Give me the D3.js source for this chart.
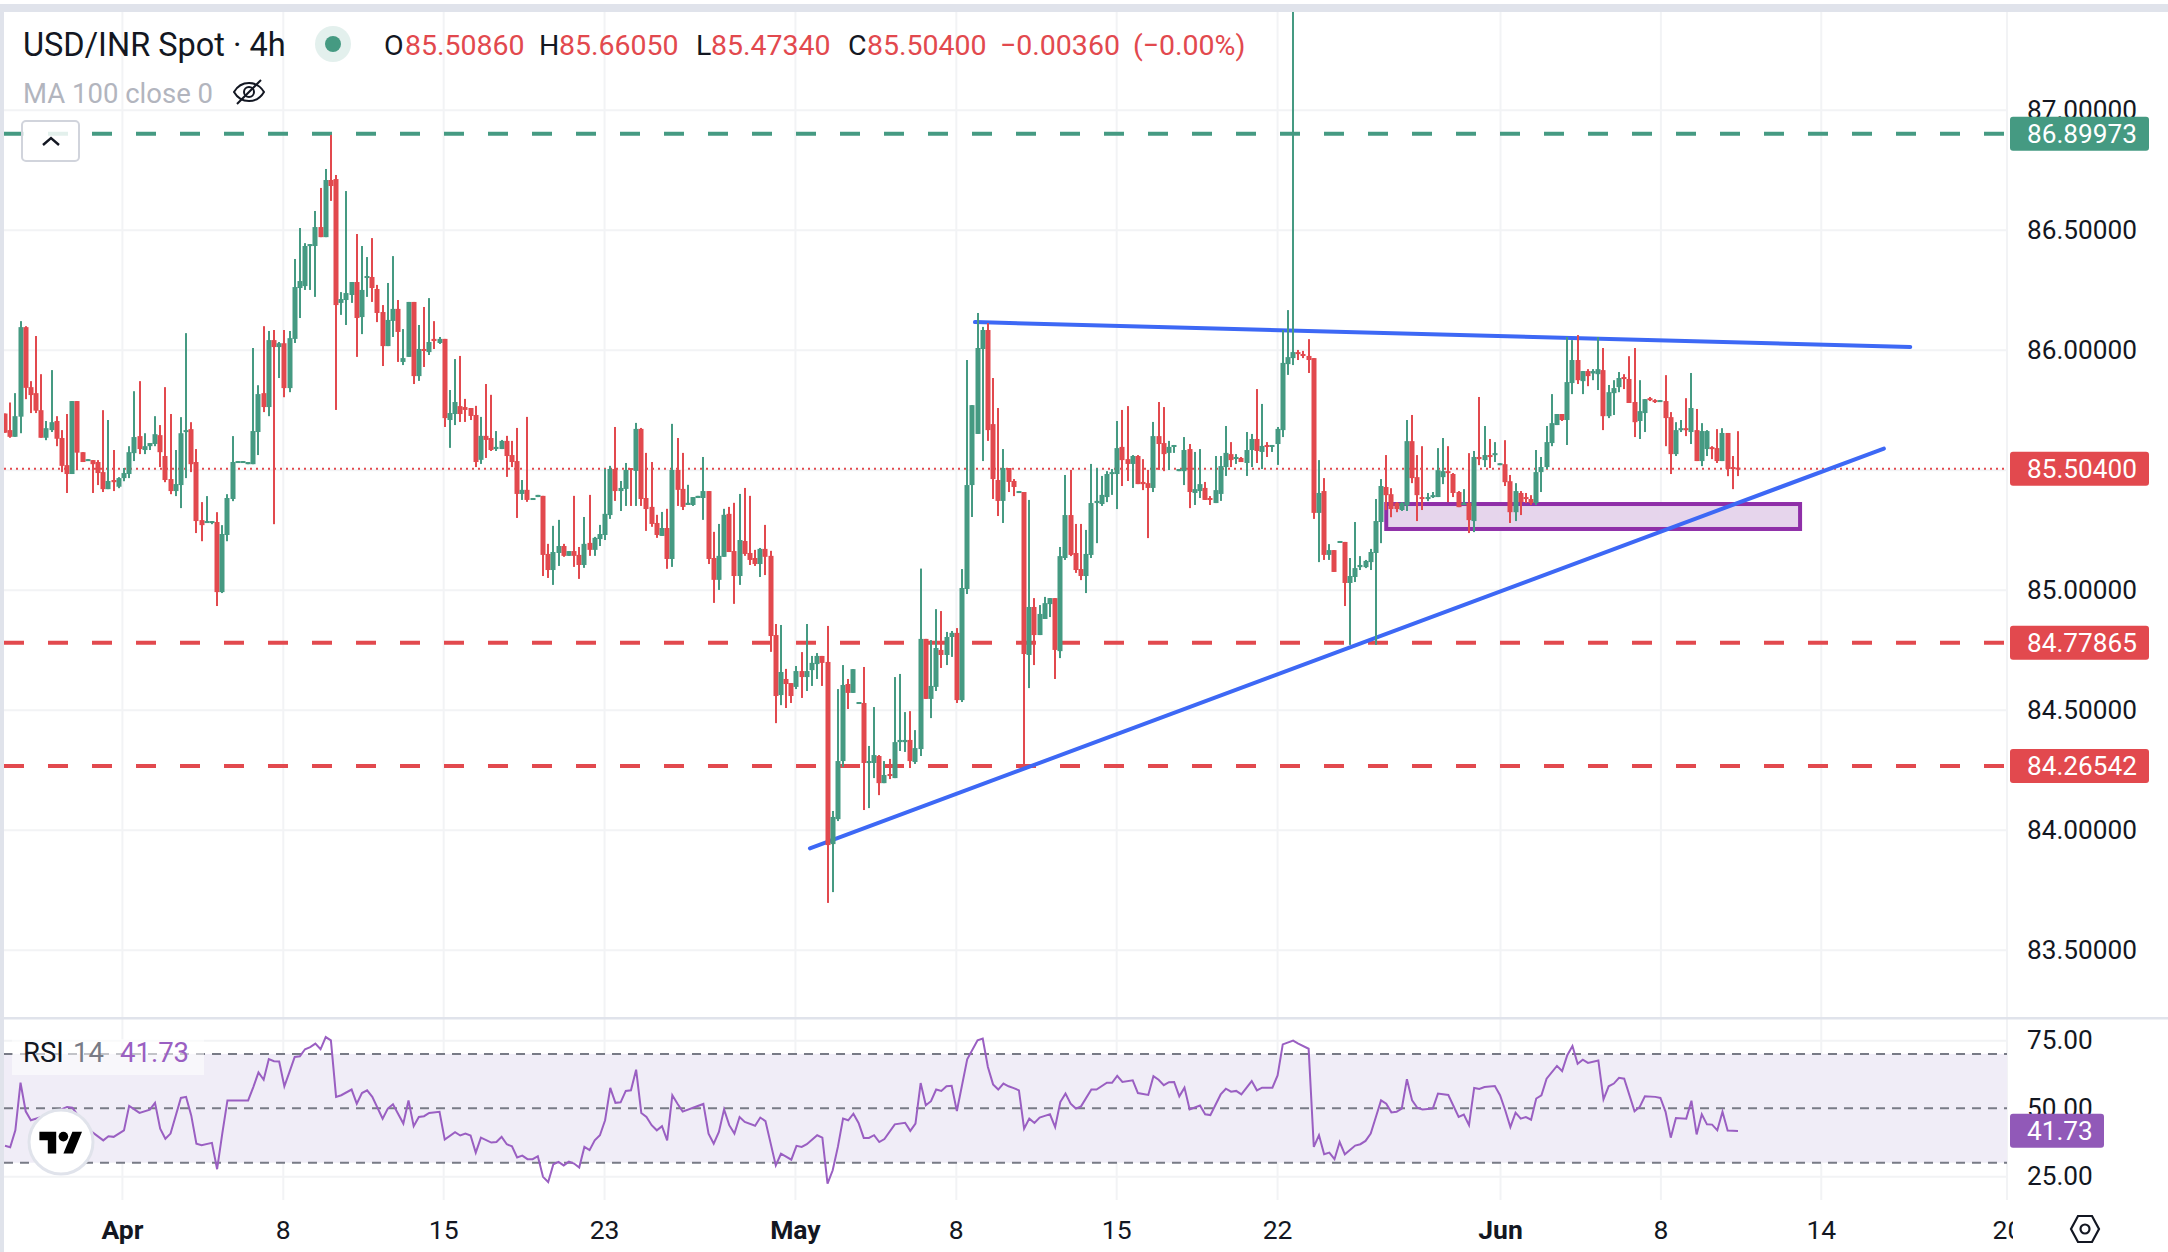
<!DOCTYPE html>
<html><head><meta charset="utf-8">
<script src="https://cdn.jsdelivr.net/npm/d3@7/dist/d3.min.js"></script>
<style>html,body{margin:0;padding:0;background:#fff}svg{display:block}text{font-family:Roboto,Inter,sans-serif}</style>
</head><body><div id="chart"></div>
<script>
// ---- candle data ----
const candleDirs = ["RRGGRRRRGG","RRRGRRGRRR","GRGGGGRGGG","RRRGGGRRRG","GRGGGGGGGG","RGRGRGGGGG","GRGRRGGGRG","GRRRGGRGGR","GRGRGRGGRR","RRGRRGGRRR",
"GRGGRRGGRG","RRGRGGGGRG","GRGRRRRGRG","RRGGGGRRGG","RRGRRRGRRR","GRRGRGGGRR","GGGRGGRGGR","GRGGGRGGRG","GRGGRGGGGG","RRRGRRGRGR",
"GGGRGGRRRG","GGGGGGRRGR","RRGRRGGGGR","GGRRGGGRGR","GGRGRGGGGG","RRRRGRGRGR","GGGGGGGRRR","GGRRRGGGGR","RRGRGRGRGG","RRGRRRGGGG",
"GRGGRGRGGR","GGGRRRGGRR","GRRGGRGRGG","RRGRRR"];
const highs = [85.734,85.780,85.819,86.119,86.098,85.869,86.057,85.898,85.703,85.915,
85.723,85.665,85.732,85.786,85.786,85.573,85.544,85.540,85.540,85.748,
85.707,85.582,85.469,85.507,85.598,85.827,85.869,85.652,85.611,85.723,
85.686,85.844,85.732,85.582,85.719,86.069,85.698,85.586,85.365,85.390,
85.286,85.323,85.269,85.398,85.640,85.536,85.536,85.532,86.007,85.852,
86.098,86.078,86.082,86.032,86.082,86.078,86.378,86.507,86.444,86.440,
86.578,86.674,86.753,86.895,86.728,86.240,86.661,86.282,86.482,86.432,
86.386,86.465,86.270,86.186,86.278,86.390,86.207,86.086,86.199,86.199,
86.103,86.178,86.215,86.119,86.053,86.045,85.832,85.961,85.974,85.795,
85.757,85.766,85.720,85.857,85.812,85.661,85.624,85.641,85.620,85.674,
85.457,85.720,85.382,85.395,85.391,85.191,85.266,85.291,85.191,85.161,
85.391,85.178,85.303,85.395,85.220,85.270,85.503,85.516,85.678,85.453,
85.528,85.507,85.695,85.674,85.570,85.532,85.312,85.324,85.337,85.691,
85.632,85.570,85.437,85.386,85.391,85.553,85.411,85.241,85.274,85.337,
85.345,85.362,85.399,85.424,85.391,85.166,85.174,85.270,85.162,84.857,
84.853,84.670,84.611,84.682,84.740,84.857,84.724,84.736,84.724,84.849,
84.078,84.586,84.686,84.628,84.669,84.532,84.678,84.349,84.511,84.311,
84.286,84.295,84.636,84.649,84.490,84.494,84.415,85.088,84.795,84.790,
84.919,84.911,84.824,84.828,84.840,85.086,85.957,85.769,86.153,86.095,
86.111,85.882,85.757,85.586,85.507,85.461,85.411,85.407,85.374,84.965,
84.936,84.970,84.965,84.965,85.178,85.478,85.499,85.274,85.274,85.249,
85.524,85.507,85.474,85.494,85.503,85.703,85.749,85.765,85.561,85.561,
85.544,85.499,85.699,85.782,85.761,85.620,85.603,85.503,85.636,85.607,
85.574,85.586,85.449,85.390,85.557,85.557,85.682,85.615,85.565,85.553,
85.657,85.649,85.836,85.774,85.615,85.603,85.678,86.082,86.165,87.45,
85.999,85.995,86.044,85.965,85.540,85.465,85.190,85.165,85.203,85.199,
85.132,85.282,85.140,85.124,85.170,85.378,85.461,85.561,85.423,85.365,
85.365,85.707,85.728,85.561,85.598,85.403,85.407,85.590,85.632,85.598,
85.486,85.411,85.419,85.569,85.578,85.803,85.682,85.628,85.615,85.527,
85.623,85.478,85.444,85.411,85.403,85.394,85.582,85.553,85.682,85.815,
85.732,85.732,86.053,86.040,86.061,85.911,85.919,85.919,86.053,86.007,
85.853,85.873,85.907,85.898,85.973,86.007,85.873,85.794,85.803,85.794,
85.790,85.894,85.740,85.698,85.707,85.798,85.903,85.753,85.694,85.665,
85.598,85.669,85.673,85.653,85.557,85.6605];
const bodyTops = [85.734,85.665,85.723,86.094,86.094,85.844,85.819,85.748,85.673,85.698,
85.703,85.632,85.519,85.786,85.786,85.573,85.544,85.540,85.532,85.490,
85.453,85.457,85.465,85.486,85.573,85.636,85.640,85.598,85.611,85.648,
85.644,85.557,85.461,85.440,85.652,85.665,85.669,85.532,85.290,85.286,
85.286,85.282,85.232,85.382,85.532,85.536,85.536,85.532,85.661,85.815,
85.819,86.040,86.040,86.027,86.027,86.048,86.261,86.286,86.432,86.440,
86.511,86.511,86.707,86.707,86.711,86.211,86.236,86.282,86.282,86.249,
86.307,86.303,86.253,86.157,86.124,86.170,86.170,85.965,86.199,86.199,
86.003,86.003,86.032,86.045,86.045,86.045,85.736,85.782,85.765,85.761,
85.757,85.728,85.641,85.641,85.632,85.595,85.620,85.620,85.561,85.536,
85.416,85.416,85.382,85.395,85.391,85.149,85.157,85.182,85.182,85.161,
85.161,85.145,85.191,85.195,85.216,85.232,85.316,85.503,85.503,85.424,
85.499,85.507,85.670,85.670,85.382,85.345,85.278,85.257,85.257,85.499,
85.499,85.420,85.362,85.386,85.391,85.411,85.411,85.132,85.141,85.312,
85.316,85.161,85.207,85.203,85.153,85.132,85.170,85.170,85.141,84.811,
84.657,84.628,84.611,84.661,84.661,84.661,84.695,84.724,84.724,84.699,
84.053,84.286,84.603,84.607,84.669,84.532,84.528,84.286,84.311,84.307,
84.228,84.232,84.365,84.374,84.374,84.374,84.340,84.795,84.795,84.599,
84.757,84.749,84.803,84.820,84.820,85.007,85.436,85.769,86.007,86.082,
86.082,85.690,85.457,85.507,85.507,85.453,85.411,85.407,84.928,84.928,
84.899,84.944,84.965,84.965,85.140,85.311,85.311,85.153,85.086,85.149,
85.361,85.370,85.395,85.482,85.490,85.590,85.595,85.544,85.557,85.557,
85.449,85.444,85.640,85.640,85.611,85.595,85.603,85.503,85.582,85.586,
85.419,85.440,85.424,85.382,85.415,85.515,85.570,85.565,85.553,85.549,
85.582,85.628,85.628,85.599,85.603,85.603,85.670,85.945,85.969,85.990,
85.990,85.982,85.974,85.965,85.403,85.411,85.165,85.165,85.203,85.199,
85.057,85.090,85.103,85.120,85.157,85.286,85.432,85.428,85.398,85.361,
85.361,85.619,85.619,85.469,85.386,85.386,85.394,85.498,85.494,85.494,
85.482,85.407,85.361,85.361,85.553,85.553,85.561,85.561,85.569,85.527,
85.523,85.452,85.411,85.403,85.386,85.378,85.490,85.511,85.615,85.694,
85.732,85.732,85.865,85.957,85.957,85.911,85.911,85.911,85.919,85.915,
85.823,85.840,85.882,85.886,85.878,85.782,85.744,85.794,85.798,85.790,
85.790,85.786,85.719,85.665,85.673,85.673,85.757,85.665,85.661,85.661,
85.594,85.590,85.653,85.653,85.511,85.5086];
const bodyBots = [85.654,85.637,85.637,85.721,85.841,85.811,85.746,85.633,85.633,85.665,
85.629,85.516,85.482,85.482,85.571,85.532,85.537,85.523,85.486,85.419,
85.419,85.448,85.429,85.465,85.482,85.569,85.586,85.582,85.598,85.607,
85.573,85.457,85.411,85.411,85.436,85.657,85.523,85.286,85.269,85.278,
85.278,84.990,84.990,85.228,85.378,85.528,85.528,85.523,85.523,85.657,
85.761,85.761,86.011,86.011,85.840,85.840,86.045,86.257,86.265,86.432,
86.432,86.469,86.469,86.682,86.186,86.195,86.207,86.228,86.132,86.136,
86.299,86.257,86.153,86.015,86.015,86.120,86.074,85.949,85.970,85.890,
85.890,85.995,85.990,86.036,86.028,85.715,85.707,85.732,85.732,85.749,
85.724,85.532,85.541,85.624,85.582,85.586,85.586,85.557,85.532,85.399,
85.399,85.374,85.374,85.386,85.145,85.082,85.082,85.153,85.141,85.141,
85.141,85.103,85.103,85.166,85.166,85.211,85.228,85.311,85.411,85.411,
85.420,85.499,85.495,85.378,85.336,85.274,85.228,85.224,85.128,85.128,
85.416,85.345,85.353,85.353,85.382,85.382,85.128,85.041,85.041,85.137,
85.157,85.057,85.057,85.149,85.124,85.107,85.107,85.137,84.807,84.557,
84.561,84.607,84.557,84.595,84.636,84.636,84.665,84.690,84.695,83.936,
83.940,84.044,84.286,84.570,84.570,84.524,84.278,84.278,84.278,84.194,
84.194,84.224,84.215,84.365,84.365,84.286,84.282,84.336,84.545,84.545,
84.595,84.728,84.728,84.803,84.540,84.540,85.003,85.436,85.649,86.003,
85.665,85.461,85.370,85.370,85.449,85.428,85.403,84.732,84.728,84.811,
84.811,84.878,84.940,84.749,84.744,85.132,85.145,85.082,85.057,85.057,
85.145,85.361,85.357,85.386,85.482,85.482,85.540,85.524,85.524,85.440,
85.440,85.424,85.424,85.607,85.565,85.570,85.595,85.494,85.494,85.407,
85.403,85.411,85.374,85.374,85.361,85.399,85.511,85.540,85.545,85.532,
85.528,85.582,85.578,85.574,85.595,85.595,85.607,85.665,85.940,85.965,
85.982,85.974,85.957,85.320,85.320,85.145,85.145,85.074,85.195,85.028,
85.028,85.053,85.094,85.094,85.115,85.153,85.282,85.394,85.336,85.336,
85.332,85.352,85.465,85.394,85.378,85.378,85.386,85.386,85.469,85.486,
85.403,85.344,85.353,85.290,85.286,85.544,85.540,85.553,85.561,85.519,
85.448,85.323,85.323,85.365,85.378,85.361,85.361,85.490,85.511,85.611,
85.686,85.707,85.707,85.861,85.873,85.869,85.890,85.901,85.898,85.723,
85.723,85.819,85.844,85.878,85.778,85.698,85.703,85.736,85.790,85.786,
85.782,85.715,85.565,85.565,85.665,85.665,85.657,85.536,85.536,85.586,
85.586,85.536,85.536,85.503,85.503,85.504];
const lows = [85.654,85.633,85.637,85.652,85.794,85.736,85.736,85.633,85.623,85.657,
85.598,85.490,85.403,85.482,85.498,85.532,85.537,85.403,85.436,85.407,
85.419,85.411,85.423,85.452,85.465,85.536,85.565,85.565,85.582,85.598,
85.511,85.448,85.398,85.390,85.340,85.465,85.490,85.236,85.202,85.278,
85.273,84.932,84.986,85.202,85.369,85.528,85.528,85.523,85.523,85.561,
85.740,85.723,85.273,85.882,85.802,85.823,86.028,86.132,86.249,86.249,
86.220,86.469,86.469,86.620,85.749,86.145,86.103,86.195,85.970,86.065,
86.220,86.199,86.115,85.932,86.015,86.053,85.949,85.936,85.970,85.857,
85.870,85.928,85.978,86.003,86.024,85.678,85.591,85.686,85.699,85.699,
85.707,85.511,85.524,85.549,85.578,85.578,85.586,85.470,85.511,85.299,
85.374,85.366,85.374,85.386,85.057,85.049,85.020,85.099,85.137,85.141,
85.095,85.045,85.091,85.141,85.141,85.182,85.207,85.295,85.370,85.328,
85.349,85.349,85.349,85.349,85.245,85.262,85.216,85.224,85.087,85.095,
85.349,85.332,85.353,85.349,85.382,85.291,85.107,84.945,84.999,85.137,
85.157,84.941,85.020,85.141,85.103,85.099,85.053,85.061,84.741,84.444,
84.519,84.507,84.528,84.586,84.549,84.578,84.599,84.628,84.599,83.695,
83.740,84.036,84.261,84.503,84.570,84.524,84.082,84.090,84.215,84.144,
84.194,84.211,84.215,84.328,84.324,84.257,84.274,84.307,84.545,84.465,
84.578,84.674,84.686,84.720,84.528,84.532,84.982,85.303,85.649,85.536,
85.620,85.378,85.307,85.278,85.407,85.390,85.403,84.267,84.590,84.686,
84.811,84.878,84.886,84.628,84.715,85.124,85.140,85.070,85.040,84.986,
85.132,85.194,85.349,85.365,85.395,85.336,85.432,85.453,85.424,85.440,
85.415,85.215,85.407,85.499,85.494,85.499,85.570,85.494,85.436,85.340,
85.353,85.382,85.374,85.353,85.361,85.370,85.474,85.511,85.524,85.532,
85.474,85.511,85.528,85.503,85.553,85.574,85.520,85.636,85.895,85.936,
85.957,85.965,85.903,85.295,85.115,85.124,85.124,85.074,85.195,84.932,
84.770,85.032,85.082,85.090,85.082,84.770,85.194,85.332,85.302,85.323,
85.328,85.328,85.444,85.286,85.332,85.369,85.382,85.386,85.440,85.365,
85.386,85.344,85.353,85.236,85.240,85.519,85.511,85.507,85.532,85.519,
85.432,85.278,85.286,85.311,85.361,85.353,85.353,85.407,85.503,85.598,
85.686,85.703,85.603,85.815,85.857,85.815,85.848,85.873,85.832,85.665,
85.715,85.728,85.823,85.836,85.778,85.636,85.628,85.657,85.786,85.778,
85.782,85.598,85.482,85.557,85.657,85.640,85.607,85.536,85.515,85.557,
85.544,85.528,85.536,85.473,85.419,85.4734];
// ---- RSI vertices ----
const rsiIdx = [0,1,2,3,4,5,8,12,13,16,19,20,21,23,24,26,28,29,30,31,32,34,35,36,37,38,40,41,42,43,47,48,49,50,51,52,53,54,55,56,57,58,59,60,61,62,63,64,65,67,68,69,70,71,73,74,75,77,78,79,80,81,82,84,85,87,88,89,90,91,92,94,95,96,97,98,99,100,101,102,103,104,105,106,107,108,109,110,111,112,113,114,115,116,117,118,119,120,121,122,123,124,125,126,127,128,129,130,131,133,135,136,137,138,139,140,141,142,143,145,146,147,149,150,152,153,154,155,157,158,159,160,161,162,163,164,165,166,167,168,169,170,172,174,175,176,177,178,179,180,181,182,183,184,186,188,189,190,191,192,193,194,195,196,197,198,199,200,201,202,203,204,205,206,207,208,210,211,213,214,215,216,218,219,221,222,223,224,225,226,227,228,229,231,232,233,235,236,237,238,239,241,242,243,245,246,247,249,250,252,253,254,255,256,257,258,259,261,262,263,264,265,266,267,268,269,270,271,272,273,274,276,277,279,281,282,283,284,285,286,288,289,290,291,292,293,294,295,296,297,298,300,301,302,303,304,305,306,308,309,310,311,312,313,315,316,317,319,320,321,322,323,325,326,327,328,329,330,331,332,333,335];
const rsiVal = [36.2,35.7,41.9,59.4,48.9,45.6,47.4,50.5,50.2,42.5,38.2,39.7,39.5,41.9,50.9,48.3,49.5,52.0,42.5,38.8,40.7,53.8,54.2,47.4,37.0,36.4,37.3,27.6,40.7,52.9,52.9,57.8,63.2,60.5,68.1,67.3,67.2,58.1,63.4,68.9,69.1,71.7,72.5,73.8,71.7,76.2,75.0,54.2,54.8,56.9,51.7,55.6,56.6,54.2,46.2,49.9,51.5,44.4,52.9,43.4,46.8,47.1,48.3,48.7,38.5,41.2,40.0,40.7,40.0,33.7,39.2,37.4,37.6,39.5,36.8,36.0,31.9,32.6,31.3,31.3,32.4,24.8,22.9,29.4,30.3,29.0,30.4,29.7,28.2,35.8,34.6,38.2,40.1,45.6,57.5,52.0,52.2,56.4,56.6,64.2,48.3,46.8,43.8,41.9,43.4,38.2,54.8,51.7,48.8,50.2,51.6,40.7,37.0,41.3,49.6,43.8,40.7,46.8,45.0,43.6,46.6,45.3,29.0,33.3,31.1,36.2,35.8,36.8,40.1,39.2,22.3,27.2,35.8,46.2,45.6,48.0,44.6,39.1,39.1,40.1,37.6,38.7,44.1,44.7,41.7,44.4,59.3,51.1,52.6,56.9,56.4,58.1,58.3,49.0,68.0,75.0,75.6,65.2,58.8,56.9,59.1,58.1,57.4,56.6,42.5,46.2,44.6,46.6,47.2,47.8,43.1,52.3,55.4,51.7,49.9,50.7,56.9,56.9,59.4,59.4,61.9,59.7,60.3,55.6,54.9,61.8,60.5,58.5,59.6,59.7,54.4,57.6,49.6,51.0,47.8,47.5,55.1,57.2,56.1,56.4,55.1,60.0,56.6,57.6,57.6,62.1,73.5,74.9,73.8,71.9,35.8,40.1,33.1,33.7,31.3,37.6,33.1,36.3,36.8,38.0,40.7,46.8,52.9,51.7,48.5,48.7,49.9,60.7,52.9,50.2,49.6,49.9,55.4,54.9,46.8,47.7,43.8,57.5,57.1,57.8,58.2,54.8,49.3,43.1,48.4,46.2,46.8,45.8,53.6,54.8,60.9,65.6,63.7,69.5,72.9,66.4,67.9,66.7,67.6,53.3,58.1,59.1,61.2,60.9,48.9,50.5,54.4,54.2,53.8,48.7,39.2,46.4,46.2,52.8,40.4,47.8,44.1,44.0,41.9,48.7,41.8,41.7];
// ---- axes ----
const priceTicks = [87,86.5,86,85.5,85,84.5,84,83.5];
const rsiTicks = [75,50,25];
const rsiBands = [70,50,30];
const dateTickIdx = [22.6,53.7,84.7,115.8,152.7,183.8,214.8,245.9,289,320,351,387];
const dateTickLabels = ["Apr","8","15","23","May","8","15","22","Jun","8","14","20"];
const boldLabels = ["Apr","May","Jun"];
// ---- drawings ----
const greenLevels = [86.89973];
const redLevels = [84.77865,84.26542];
const lastPrice = 85.504;
const lastRsi = 41.73;
const resistanceIdx = [187.5,368.3], resistancePx = [86.115,86.011];
const supportIdx = [155.6,363.2], supportPx = [83.922,85.588];
const zoneIdx = [267,347], zonePx = [85.357,85.253];

const W=2168,H=1252, LEFT=4, AXIS_X=2007, TOP=12, SEP=1018, BOTTOM=1200;
const GREEN="#459a82", RED="#e2494e", BLUE="#3d68f5", PURPLE="#8f2fa8", RSIC="#9a5fc2", GRID="#f2f3f5", TXT="#131722";
const x=d3.scaleLinear().domain([0,335]).range([5,1738]);
const y=d3.scaleLinear().domain([86,85]).range([349.7,589.7]);
const ry=d3.scaleLinear().domain([50,30]).range([1108.3,1162.7]);
const bars=highs.map((h,i)=>({i,h,t:bodyTops[i],b:bodyBots[i],l:lows[i],up:candleDirs.join("")[i]==="G"}));

const svg=d3.select("#chart").append("svg").attr("width",W).attr("height",H);
const defs=svg.append("defs");
defs.append("clipPath").attr("id","mainClip").append("rect").attr("x",LEFT).attr("y",TOP).attr("width",AXIS_X-LEFT).attr("height",SEP-TOP);
defs.append("clipPath").attr("id","rsiClip").append("rect").attr("x",LEFT).attr("y",SEP).attr("width",AXIS_X-LEFT).attr("height",BOTTOM-SEP);
defs.append("clipPath").attr("id","dateClip").append("rect").attr("x",0).attr("y",BOTTOM).attr("width",2013).attr("height",H-BOTTOM);

// frame
svg.append("rect").attr("x",0).attr("y",4).attr("width",W).attr("height",8).attr("fill","#e0e3eb");
svg.append("rect").attr("x",0).attr("y",4).attr("width",4).attr("height",H-4).attr("fill","#e0e3eb");

// grid
const grid=svg.append("g");
const gv=grid.append("g").call(d3.axisBottom(x).tickValues(dateTickIdx.slice(0,-1)).tickSize(BOTTOM-TOP).tickFormat(""));
gv.attr("transform",`translate(0,${TOP})`);gv.select(".domain").remove();gv.selectAll("line").attr("stroke",GRID).attr("stroke-width",2);
const gh=grid.append("g").attr("transform",`translate(${LEFT},0)`).call(d3.axisRight(y).tickValues(priceTicks).tickSize(AXIS_X-LEFT).tickFormat(""));
gh.select(".domain").remove();gh.selectAll("line").attr("stroke",GRID).attr("stroke-width",2);
const gr=grid.append("g").attr("transform",`translate(${LEFT},0)`).call(d3.axisRight(ry).tickValues(rsiTicks).tickSize(AXIS_X-LEFT).tickFormat(""));
gr.select(".domain").remove();gr.selectAll("line").attr("stroke",GRID).attr("stroke-width",2);
grid.append("line").attr("x1",AXIS_X).attr("x2",AXIS_X).attr("y1",TOP).attr("y2",BOTTOM).attr("stroke",GRID).attr("stroke-width",2);
svg.append("rect").attr("x",LEFT).attr("y",SEP-1).attr("width",W-LEFT).attr("height",2.5).attr("fill","#e0e3eb");

// main pane
const main=svg.append("g").attr("clip-path","url(#mainClip)");
main.append("rect").attr("x",x(zoneIdx[0])).attr("width",x(zoneIdx[1])-x(zoneIdx[0])).attr("y",y(zonePx[0])).attr("height",y(zonePx[1])-y(zonePx[0]))
 .attr("fill","#e6d5ec").attr("stroke",PURPLE).attr("stroke-width",4);
const levelData=[...greenLevels.map(v=>({v,c:GREEN})),...redLevels.map(v=>({v,c:RED}))];
main.selectAll(".lvl").data(levelData).join("line").attr("x1",LEFT).attr("x2",AXIS_X).attr("y1",d=>y(d.v)).attr("y2",d=>y(d.v))
 .attr("stroke",d=>d.c).attr("stroke-width",4).attr("stroke-dasharray","20 24");
main.append("line").attr("x1",LEFT).attr("x2",AXIS_X).attr("y1",y(lastPrice)).attr("y2",y(lastPrice)).attr("stroke",RED).attr("stroke-width",2).attr("stroke-dasharray","2 4");
const tl=d3.line().x(d=>x(d[0])).y(d=>y(d[1]));
main.append("path").attr("d",tl(d3.zip(resistanceIdx,resistancePx))).attr("stroke",BLUE).attr("stroke-width",4).attr("fill","none").attr("stroke-linecap","round");
main.append("path").attr("d",tl(d3.zip(supportIdx,supportPx))).attr("stroke",BLUE).attr("stroke-width",4).attr("fill","none").attr("stroke-linecap","round");
const candles=main.append("g").selectAll("g").data(bars).join("g").attr("fill",d=>d.up?GREEN:RED);
candles.append("rect").attr("x",d=>Math.round(x(d.i))-1).attr("width",2).attr("y",d=>y(d.h)).attr("height",d=>Math.max(1,y(d.l)-y(d.h)));
candles.append("rect").attr("x",d=>Math.round(x(d.i))-2.5).attr("width",5).attr("y",d=>y(d.t)).attr("height",d=>Math.max(2,y(d.b)-y(d.t)));

// RSI pane
const rsi=svg.append("g").attr("clip-path","url(#rsiClip)");
rsi.append("rect").attr("x",LEFT).attr("width",AXIS_X-LEFT).attr("y",ry(70)).attr("height",ry(30)-ry(70)).attr("fill","#f0edf7");
rsi.selectAll(".band").data(rsiBands).join("line").attr("x1",LEFT).attr("x2",AXIS_X).attr("y1",d=>ry(d)).attr("y2",d=>ry(d))
 .attr("stroke","#787b86").attr("stroke-width",2).attr("stroke-dasharray","9 7");
rsi.append("path").attr("d",d3.line().x(d=>x(d[0])).y(d=>ry(d[1]))(d3.zip(rsiIdx,rsiVal))).attr("fill","none").attr("stroke",RSIC).attr("stroke-width",2);

// axes labels
const FS=26.2;
const pa=svg.append("g").attr("transform",`translate(${AXIS_X},0)`).call(d3.axisRight(y).tickValues(priceTicks).tickSize(0).tickPadding(20).tickFormat(d3.format(".5f")));
pa.select(".domain").remove();pa.selectAll("text").attr("font-size",FS).attr("fill",TXT).style("font-family","Roboto");
const ra=svg.append("g").attr("transform",`translate(${AXIS_X},0)`).call(d3.axisRight(ry).tickValues(rsiTicks).tickSize(0).tickPadding(20).tickFormat(d3.format(".2f")));
ra.select(".domain").remove();ra.selectAll("text").attr("font-size",FS).attr("fill",TXT).style("font-family","Roboto");
const xa=svg.append("g").attr("clip-path","url(#dateClip)").append("g").attr("transform",`translate(0,1220)`)
 .call(d3.axisBottom(x).tickValues(dateTickIdx).tickSize(0).tickPadding(0).tickFormat((d,i)=>dateTickLabels[i]));
xa.select(".domain").remove();
xa.selectAll("text").attr("font-size",26.5).attr("fill",TXT).attr("dy","0.71em").attr("font-weight",(d,i)=>boldLabels.includes(dateTickLabels[i])?700:400);

// price tags
function tag(v,scale,c,label,wd){
 const yy=scale(v);const g=svg.append("g");
 g.append("rect").attr("x",2010).attr("y",yy-17).attr("width",wd).attr("height",34).attr("rx",3).attr("fill",c);
 g.append("text").attr("x",2027).attr("y",yy).attr("dy","0.35em").attr("font-size",FS).attr("fill","#fff").text(label);
}
greenLevels.forEach(v=>tag(v,y,GREEN,d3.format(".5f")(v),139));
tag(lastPrice,y,RED,d3.format(".5f")(lastPrice),139);
redLevels.forEach(v=>tag(v,y,RED,d3.format(".5f")(v),139));
tag(lastRsi,ry,"#9159b8",d3.format(".2f")(lastRsi),94);

// legend
const leg=svg.append("g");
leg.append("text").attr("x",23).attr("y",56).attr("font-size",32.5).attr("fill",TXT).text("USD/INR Spot · 4h");
leg.append("circle").attr("cx",333).attr("cy",44).attr("r",18).attr("fill","#e3f0ed");
leg.append("circle").attr("cx",333).attr("cy",44).attr("r",8).attr("fill",GREEN);
const ohlc=[[384,"O",TXT],[405,"85.50860",RED],[539,"H",TXT],[559,"85.66050",RED],[696,"L",TXT],[711,"85.47340",RED],[848,"C",TXT],[867,"85.50400",RED],[1000,"−0.00360",RED],[1133,"(−0.00%)",RED]];
ohlc.forEach(d=>leg.append("text").attr("x",d[0]).attr("y",55).attr("font-size",28.5).attr("fill",d[2]).text(d[1]));
leg.append("text").attr("x",23).attr("y",103).attr("font-size",27.5).attr("fill","#b2b5be").text("MA 100 close 0");
const eye=leg.append("g").attr("transform","translate(249,92)").attr("fill","none").attr("stroke",TXT).attr("stroke-width",2);
eye.append("path").attr("d","M-15 0C-8 -12 8 -12 15 0C8 12 -8 12 -15 0Z");
eye.append("circle").attr("r",5);
eye.append("path").attr("d","M-12 12L12 -12");
leg.append("rect").attr("x",22).attr("y",121).attr("width",57).attr("height",40).attr("rx",4).attr("fill","rgba(255,255,255,0.85)").attr("stroke","#d1d4dc").attr("stroke-width",2);
leg.append("path").attr("d","M43 145L51 138L59 145").attr("fill","none").attr("stroke",TXT).attr("stroke-width",2.4);

// RSI legend
svg.append("rect").attr("x",12).attr("y",1039).attr("width",192).attr("height",36).attr("fill","rgba(255,255,255,0.55)");
const rlSeg=[[23,"RSI",TXT],[73,"14","#787b86"],[120,"41.73",RSIC]];
rlSeg.forEach(d=>svg.append("text").attr("x",d[0]).attr("y",1062).attr("font-size",27.5).attr("fill",d[2]).text(d[1]));

// logo
const logo=svg.append("g");
logo.append("circle").attr("cx",61).attr("cy",1142).attr("r",32).attr("fill","#fff").attr("stroke","#e0e3eb").attr("stroke-width",3);
const lg=logo.append("g").attr("transform","translate(39.4,1127) scale(1.2)").attr("fill","#000");
lg.append("path").attr("d","M14 22H7V11H0V4h14v18zM28 22h-8l7.5-18h8L28 22z");
lg.append("circle").attr("cx",20).attr("cy",8).attr("r",4);

// settings icon
const gear=svg.append("g").attr("transform","translate(2085,1229)").attr("fill","none").attr("stroke",TXT).attr("stroke-width",2.2);
gear.append("path").attr("d","M-7 -13L7 -13L14 0L7 13L-7 13L-14 0Z");
gear.append("circle").attr("r",4.5);
</script></body></html>
